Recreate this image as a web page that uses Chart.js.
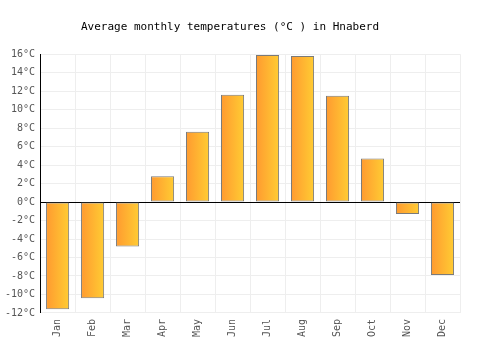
<!DOCTYPE html>
<html><head><meta charset="utf-8">
<script src="https://cdn.jsdelivr.net/npm/chart.js@4/dist/chart.umd.min.js"></script>
<style>html,body{margin:0;padding:0;background:#fff}#wrap{width:500px;height:350px}</style>
</head><body><div id="wrap"><canvas id="c" width="500" height="350"></canvas></div>
<script>
const categories = ["Jan","Feb","Mar","Apr","May","Jun","Jul","Aug","Sep","Oct","Nov","Dec"];
const temperatures = [-11.6, -10.4, -4.8, 2.8, 7.6, 11.6, 15.9, 15.8, 11.5, 4.7, -1.3, -7.9];
const titleText = "Average monthly temperatures (°C ) in Hnaberd";
const FONT = "'DejaVu Sans Mono', monospace";

function barGradient(ctx) {
  const chart = ctx.chart;
  const area = chart.chartArea;
  if (!area || ctx.type !== 'data') return '#ffb030';
  const xs = chart.scales.x;
  const cx = xs.getPixelForValue(ctx.dataIndex);
  const half = (xs.width / categories.length) * 0.66 / 2;
  const g = chart.ctx.createLinearGradient(cx - half, 0, cx + half, 0);
  g.addColorStop(0, '#ff9a30');
  g.addColorStop(1, '#ffcc33');
  return g;
}

new Chart(document.getElementById('c'), {
  type: 'bar',
  data: {
    labels: categories,
    datasets: [{
      data: temperatures,
      backgroundColor: barGradient,
      borderColor: '#7a7a7a',
      borderWidth: 1,
      borderSkipped: false,
      barPercentage: 0.66,
      categoryPercentage: 1.0
    }]
  },
  options: {
    responsive: false,
    animation: false,
    layout: { padding: { top: 6, right: 40, left: 0, bottom: 7 } },
    plugins: {
      legend: { display: false },
      tooltip: { enabled: false },
      title: {
        display: true, text: titleText, color: '#000',
        font: { family: FONT, size: 11, weight: 'normal' },
        padding: { top: 15, bottom: 20 }
      }
    },
    scales: {
      x: {
        grid: { color: '#eeeeee', offset: true, drawTicks: false },
        border: { display: false },
        ticks: { color: '#555', font: { family: FONT, size: 10 }, maxRotation: 90, minRotation: 90, padding: 6 }
      },
      y: {
        min: -12, max: 16,
        grid: {
          color: (c) => c.tick && c.tick.value === 0 ? '#000' : '#eeeeee',
          drawTicks: false
        },
        border: { display: true, color: '#000', width: 1 },
        ticks: {
          stepSize: 2, color: '#555', padding: 5,
          font: { family: FONT, size: 10 },
          callback: (v) => v + '°C'
        }
      }
    }
  }
});
</script></body></html>
